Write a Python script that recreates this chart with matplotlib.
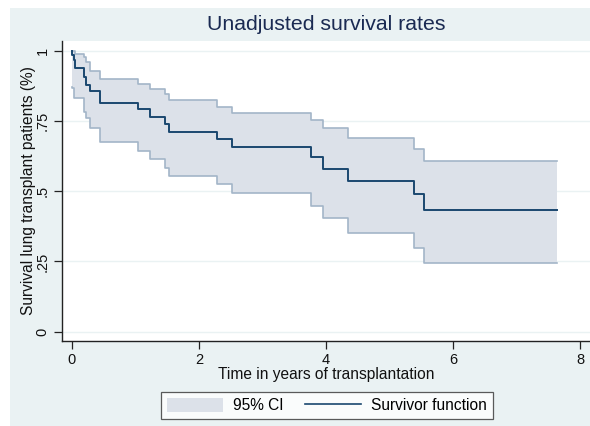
import matplotlib
matplotlib.use("Agg")
import matplotlib.pyplot as plt
from matplotlib.patches import Rectangle, Patch
from matplotlib.lines import Line2D

plt.rcParams['font.family'] = ['Liberation Sans', 'DejaVu Sans']

# Kaplan-Meier estimates
times = [0, 0.01, 0.03, 0.05, 0.19, 0.23, 0.29, 0.44, 1.04, 1.23, 1.46, 1.53,
         2.29, 2.52, 3.76, 3.95, 4.34, 5.39, 5.54, 7.63]
surv = [1.0, 0.985, 0.967, 0.940, 0.907, 0.878, 0.858, 0.815, 0.791, 0.765,
        0.739, 0.712, 0.685, 0.657, 0.623, 0.580, 0.535, 0.490, 0.433, 0.433]
upper = [1.0, 1.0, 0.998, 0.99, 0.979, 0.961, 0.929, 0.898, 0.881, 0.862,
         0.845, 0.825, 0.801, 0.779, 0.753, 0.724, 0.690, 0.650, 0.607, 0.607]
lower = [0.87, 0.866, 0.83, 0.83, 0.783, 0.76, 0.724, 0.676, 0.644, 0.613,
         0.581, 0.554, 0.525, 0.495, 0.447, 0.403, 0.352, 0.299, 0.246, 0.246]

xticks = [0, 2, 4, 6, 8]
yticks = [0, 0.25, 0.5, 0.75, 1]
ytick_labels = ['0', '.25', '.5', '.75', '1']

BG = '#eaf2f3'
NAVY = '#1a476f'
CI_FILL = '#dce1e9'
CI_EDGE = '#a3b5c8'
TXT = '#111111'

W, H = 590, 426
fig = plt.figure(figsize=(W / 100, H / 100), dpi=100, facecolor='white')
fig.patches.append(Rectangle((10 / W, 0), 1 - 10 / W, 1 - 8 / H,
                             transform=fig.transFigure, facecolor=BG,
                             edgecolor='none', zorder=-10))

ax = fig.add_axes([62 / W, 1 - 341 / H, (590 - 62) / W, 300 / H])
ax.set_facecolor('white')

ax.fill_between(times, lower, upper, step='post', facecolor=CI_FILL,
                edgecolor='none', zorder=1)
ax.step(times, upper, where='post', color=CI_EDGE, lw=1.2, zorder=2)
ax.step(times, lower, where='post', color=CI_EDGE, lw=1.2, zorder=2)
ax.step(times, surv, where='post', color=NAVY, lw=1.4, zorder=3)

ax.set_xlim(-0.153, 8.15)
ax.set_ylim(-0.033, 1.0345)
ax.set_xticks(xticks)
ax.set_yticks(yticks)
ax.set_yticklabels(ytick_labels, rotation=90, va='center')
for y in yticks:
    ax.axhline(y, color=BG, lw=1.0, zorder=0)

for s in ['top', 'right']:
    ax.spines[s].set_visible(False)
for s in ['left', 'bottom']:
    ax.spines[s].set_color('#222222')
    ax.spines[s].set_linewidth(1.0)
ax.tick_params(direction='out', length=6, width=0.9, color='#222222',
               labelsize=10.5, labelcolor=TXT, pad=3)

ax.set_xlabel('Time in years of transplantation', fontsize=11.2, color=TXT)
ax.set_ylabel('Survival lung transplant patients (%)', fontsize=11.2,
              color=TXT)
ax.xaxis.label.set_va('center')
ax.yaxis.label.set_va('center')
ax.xaxis.set_label_coords(0.5, (341 - 374.5) / 300)
ax.yaxis.set_label_coords((29 - 62) / 528, 0.5)

fig.text(326 / W, 1 - 25 / H, 'Unadjusted survival rates', fontsize=15.3,
         color='#1a2a52', ha='center', va='center')

handles = [Patch(facecolor=CI_FILL, edgecolor='none'),
           Line2D([0], [0], color=NAVY, lw=1.2)]
leg = fig.legend(handles, ['95% CI', 'Survivor function'], ncol=2,
                 loc='center', bbox_to_anchor=(327 / W, 1 - 405.5 / H),
                 fontsize=11.2, frameon=True, fancybox=False,
                 handlelength=3.6, handleheight=1.0, columnspacing=1.4,
                 handletextpad=0.64, borderpad=0.4)
leg.get_frame().set_edgecolor('#333333')
leg.get_frame().set_linewidth(0.9)
leg.get_frame().set_facecolor('white')

fig.savefig('out.png', dpi=100, facecolor=fig.get_facecolor())
